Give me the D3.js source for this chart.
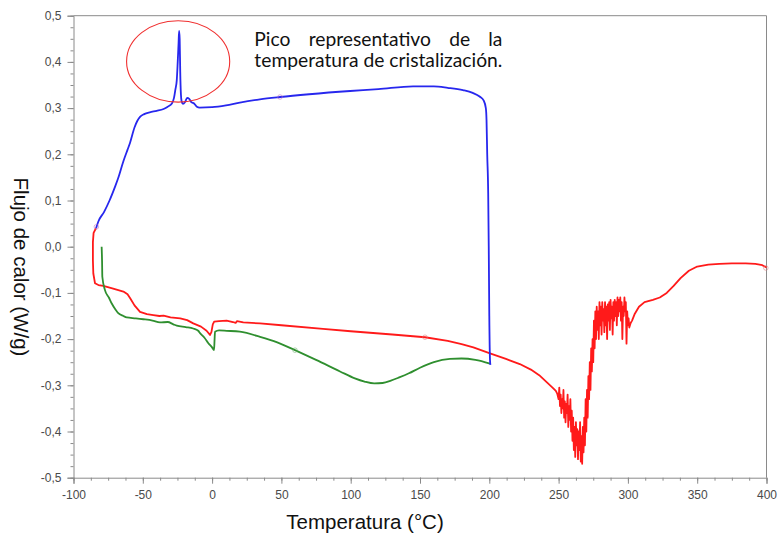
<!DOCTYPE html>
<html>
<head>
<meta charset="utf-8">
<script src="https://cdn.jsdelivr.net/npm/d3@7"></script>
<style>
  html, body { margin: 0; padding: 0; background: #fff; }
  svg { display: block; }
</style>
</head>
<body>
<svg id="chart" width="781" height="533"></svg>
<script>
// ---------------- DATA ----------------
const xTicks = [-100, -50, 0, 50, 100, 150, 200, 250, 300, 350, 400];
const yTicks = [-0.5, -0.4, -0.3, -0.2, -0.1, 0.0, 0.1, 0.2, 0.3, 0.4, 0.5];
const xTitle = "Temperatura (°C)";
const yTitle = "Flujo de calor (W/g)";
const noteLines = ["Pico representativo de la", "temperatura de cristalización."];

// Blue curve [°C, W/g]
const blueSeries = [
  [-83.7,0.040],[-82,0.055],[-78,0.075],[-74,0.10],[-70,0.13],[-67.8,0.148],[-64,0.185],[-61,0.21],
  [-59.3,0.224],[-56,0.258],[-54,0.272],[-52,0.281],[-49,0.287],[-45,0.291],[-40,0.294],[-35,0.298],
  [-32,0.303],[-29,0.310],[-27.5,0.322],[-26.5,0.34],[-25.5,0.36],[-24.8,0.40],[-24.2,0.44],[-23.8,0.467],
  [-23.4,0.45],[-23,0.38],[-22.5,0.33],[-22,0.315],[-21,0.309],[-19.5,0.313],[-18,0.322],[-16.5,0.32],
  [-15,0.313],[-13,0.31],[-11,0.303],[-9,0.301],[0,0.302],[10,0.306],[20,0.312],[34.5,0.319],[49,0.324],
  [70,0.330],[99.6,0.337],[120,0.341],[145,0.347],[160,0.347],[170,0.344],[181,0.339],[188,0.333],
  [193,0.325],[196,0.316],[197.5,0.300],[198,0.274],[198.5,0.2],[199.2,0.116],[199.6,0.0],[200,-0.15],
  [200.5,-0.245],[200.8,-0.256]
];

// Red curve [°C, W/g]
const redSeries = [
  [-83.8,0.040],[-85.5,0.030],[-86,0.01],[-86,-0.03],[-85.7,-0.058],[-84.5,-0.079],[-82,-0.083],
  [-78.5,-0.085],[-72,-0.09],[-64,-0.097],[-61,-0.103],[-59,-0.112],[-56,-0.127],[-52,-0.141],
  [-47,-0.146],[-42.4,-0.148],[-38,-0.150],[-35,-0.149],[-30,-0.153],[-23,-0.155],[-18,-0.159],
  [-13.6,-0.166],[-8,-0.173],[-4,-0.182],[-1.5,-0.191],[-0.5,-0.185],[0.5,-0.168],[1.5,-0.162],
  [5,-0.161],[10.5,-0.160],[15,-0.163],[17,-0.165],[18,-0.161],[22.5,-0.164],[34.6,-0.166],
  [50,-0.170],[80,-0.178],[100,-0.183],[130,-0.190],[153.6,-0.196],[170,-0.204],[180,-0.211],[188.5,-0.218],
  [200.5,-0.231],[212,-0.243],[222,-0.254],[230,-0.266],[236,-0.278],[241,-0.292],[246,-0.306],
  [248,-0.312],[249,-0.318],[250,-0.33],[250.5,-0.305],[251,-0.345],[251.5,-0.32],[252,-0.36],
  [252.5,-0.33],[253,-0.35],[253.5,-0.31],[254,-0.37],[254.5,-0.335],[255,-0.38],[255.5,-0.34],
  [256,-0.36],[256.5,-0.32],[257,-0.39],[257.5,-0.345],[258,-0.375],[258.5,-0.33],[259,-0.40],
  [259.5,-0.355],[260,-0.42],[260.5,-0.37],[261,-0.44],[261.5,-0.39],[262,-0.455],[262.5,-0.38],
  [263,-0.43],[263.5,-0.395],[264,-0.46],[264.5,-0.40],[265,-0.44],[265.5,-0.38],[266,-0.465],
  [266.5,-0.41],[267,-0.47],[267.5,-0.39],[268,-0.445],[268.5,-0.37],[269,-0.43],[269.5,-0.33],
  [270,-0.40],[270.5,-0.31],[271,-0.37],[271.5,-0.28],[272,-0.33],[272.5,-0.25],[273,-0.31],
  [273.5,-0.22],[274,-0.27],[274.5,-0.20],[275,-0.25],[275.5,-0.16],[276,-0.22],[276.5,-0.14],
  [277,-0.20],[277.5,-0.13],[278,-0.18],[278.5,-0.14],[279,-0.20],[279.5,-0.12],[280,-0.17],
  [280.5,-0.13],[281,-0.19],[281.5,-0.12],[282,-0.16],[282.5,-0.135],[283,-0.185],[283.5,-0.12],
  [284,-0.17],[284.5,-0.13],[285,-0.20],[285.5,-0.125],[286,-0.16],[286.5,-0.12],[287,-0.18],
  [287.5,-0.115],[288,-0.155],[288.5,-0.13],[289,-0.19],[289.5,-0.12],[290,-0.16],[290.5,-0.115],
  [291,-0.15],[291.5,-0.12],[292,-0.17],[292.5,-0.11],[293,-0.15],[293.5,-0.115],[294,-0.14],
  [294.5,-0.11],[295,-0.16],[295.5,-0.12],[296,-0.20],[296.5,-0.13],[297,-0.15],[297.5,-0.11],
  [298,-0.14],[298.5,-0.12],[299,-0.21],[299.5,-0.14],[300,-0.17],[300.5,-0.155],[301,-0.175],
  [302,-0.165],[303,-0.16],[305,-0.145],[308,-0.13],[312,-0.12],[318,-0.115],[323,-0.11],
  [328,-0.10],[333,-0.085],[338,-0.068],[344,-0.052],[350,-0.043],[358,-0.039],[366,-0.037],
  [375,-0.036],[385,-0.036],[392,-0.037],[397,-0.040],[400,-0.045]
];

// Green curve [°C, W/g]
const greenSeries = [
  [-79.7,0.0],[-79.4,-0.03],[-79.2,-0.065],[-77.3,-0.094],[-74.5,-0.11],[-72.4,-0.123],[-69.5,-0.137],
  [-67.7,-0.144],[-64,-0.15],[-61.6,-0.153],[-55,-0.155],[-49.6,-0.157],[-43,-0.16],[-37.6,-0.164],
  [-32,-0.163],[-28,-0.168],[-25.5,-0.171],[-19,-0.174],[-13.6,-0.177],[-10,-0.182],[-8.7,-0.187],
  [-5.5,-0.197],[-2.7,-0.209],[0,-0.218],[1.4,-0.224],[1.8,-0.20],[2.1,-0.184],[5,-0.181],
  [10.5,-0.182],[20,-0.184],[34.6,-0.195],[47,-0.207],[59.8,-0.224],[75,-0.245],[92.3,-0.270],
  [103,-0.285],[110,-0.292],[117,-0.296],[123,-0.295],[129,-0.290],[135,-0.283],[142,-0.274],
  [150,-0.262],[160,-0.250],[171.6,-0.243],[180,-0.242],[190,-0.245],[200.5,-0.253]
];

// small instrument markers on the curves [°C, W/g]
const blueMarkers = [[-83.5,0.043],[49,0.324]];
const redMarkers = [[153.6,-0.196],[399.5,-0.046]];
const greenMarkers = [[59.8,-0.224]];

// ---------------- LAYOUT ----------------
const svg = d3.select("#chart");
const M = { left: 73.5, right: 766.5, top: 15.7, bottom: 477.7 };
const x = d3.scaleLinear().domain([-100, 400]).range([M.left, M.right]);
const y = d3.scaleLinear().domain([-0.5, 0.5]).range([M.bottom, M.top]);
const axisColor = "#8a8a8a";
const labelColor = "#4a4a4a";
const fmt = v => d3.format(".1f")(v).replace(".", ",").replace("−", "-");

svg.append("path")
  .attr("d", `M${M.left},${M.top}H${M.right}V${M.bottom}`)
  .attr("fill", "none").attr("stroke", axisColor).attr("stroke-width", 1);

const xMinor = d3.range(-100, 400.01, 12.5);
const yMinor = d3.range(-0.5, 0.5001, 0.025);

const gx = svg.append("g").attr("transform", `translate(0,${M.bottom})`);
gx.call(d3.axisBottom(x).tickValues(xMinor).tickSize(3).tickFormat(""));
gx.call(g => g.selectAll(".domain").remove());
const gx2 = svg.append("g").attr("transform", `translate(0,${M.bottom})`);
gx2.call(d3.axisBottom(x).tickValues(xTicks).tickSize(6).tickPadding(7).tickFormat(d => String(d)));

const gy = svg.append("g").attr("transform", `translate(${M.left},0)`);
gy.call(d3.axisLeft(y).tickValues(yMinor).tickSize(3).tickFormat(""));
gy.call(g => g.selectAll(".domain").remove());
const gy2 = svg.append("g").attr("transform", `translate(${M.left},0)`);
gy2.call(d3.axisLeft(y).tickValues(yTicks).tickSize(6).tickPadding(6).tickFormat(fmt));

svg.selectAll(".domain, .tick line").attr("stroke", axisColor);
svg.selectAll(".tick text")
  .attr("fill", labelColor)
  .style("font-family", "'Liberation Sans', Arial, sans-serif")
  .style("font-size", "12px");

svg.append("text")
  .attr("x", 365).attr("y", 529)
  .attr("text-anchor", "middle")
  .style("font-family", "'Liberation Sans', Arial, sans-serif")
  .style("font-size", "20.5px").attr("fill", "#111")
  .text(xTitle);

svg.append("text")
  .attr("transform", `translate(14,${267}) rotate(90)`)
  .attr("text-anchor", "middle")
  .style("font-family", "'Liberation Sans', Arial, sans-serif")
  .style("font-size", "20.5px").attr("fill", "#111")
  .text(yTitle);

// ---------------- CURVES ----------------
const lineLin = d3.line().x(d => x(d[0])).y(d => y(d[1]));
const lineSmooth = d3.line().x(d => x(d[0])).y(d => y(d[1])).curve(d3.curveMonotoneX);
const plot = svg.append("g");
plot.append("path").datum(redSeries).attr("d", lineLin)
  .attr("fill", "none").attr("stroke", "#ff1a1a").attr("stroke-width", 1.8).attr("stroke-linejoin", "round");
plot.append("path").datum(greenSeries).attr("d", lineSmooth)
  .attr("fill", "none").attr("stroke", "#2f8f2f").attr("stroke-width", 1.8).attr("stroke-linejoin", "round");
plot.append("path").datum(blueSeries).attr("d", lineSmooth)
  .attr("fill", "none").attr("stroke", "#2727ee").attr("stroke-width", 1.8).attr("stroke-linejoin", "round");

function markers(data, color) {
  plot.selectAll(null).data(data).enter().append("circle")
    .attr("cx", d => x(d[0])).attr("cy", d => y(d[1])).attr("r", 2.3)
    .attr("fill", "none").attr("stroke", color).attr("stroke-width", 1).attr("opacity", 0.55);
}
markers(blueMarkers, "#c070c0");
markers(redMarkers, "#e08080");
markers(greenMarkers, "#70b070");

// ---------------- ANNOTATION ----------------
svg.append("ellipse")
  .attr("cx", x(-24.5)).attr("cy", y(0.401))
  .attr("rx", x(12.7) - x(-24.5)).attr("ry", y(0.313) - y(0.401))
  .attr("fill", "none").attr("stroke", "#f03030").attr("stroke-width", 1.1);

const noteLeft = x(30.5), noteRight = x(209.5);
const noteWidth = noteRight - noteLeft;
const noteFont = "Lato, 'Open Sans', sans-serif";
const l2 = svg.append("text").attr("x", noteLeft).attr("y", y(0.388))
  .style("font-family", noteFont).style("font-size", "16px").attr("fill", "#111")
  .text(noteLines[1]);
const len16 = l2.node().getComputedTextLength();
const fs = 16 * noteWidth / len16;
l2.style("font-size", fs + "px");
const words = noteLines[0].split(" ");
const tmp = words.map(w => svg.append("text").style("font-family", noteFont)
  .style("font-size", fs + "px").attr("fill", "#111").text(w));
const widths = tmp.map(t => t.node().getComputedTextLength());
const gap = (noteWidth - d3.sum(widths)) / (words.length - 1);
let cx = noteLeft;
tmp.forEach((t, i) => { t.attr("x", cx).attr("y", y(0.435)); cx += widths[i] + gap; });
</script>
</body>
</html>
